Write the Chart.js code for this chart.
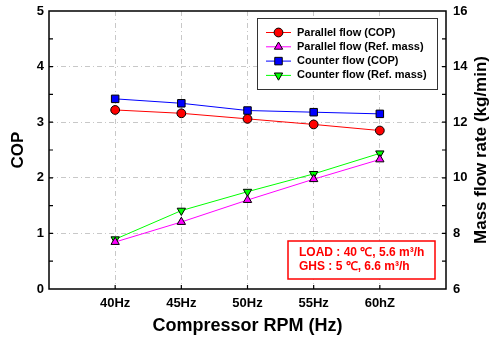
<!DOCTYPE html>
<html>
<head>
<meta charset="utf-8">
<script src="https://cdn.jsdelivr.net/npm/chart.js@4.4.1/dist/chart.umd.min.js"></script>
<style>
html, body { margin: 0; padding: 0; background: #fff; }
#wrap { width: 490px; height: 339px; }
</style>
</head>
<body>
<div id="wrap"><canvas id="c"></canvas></div>
<script>
// data
var freqs = [40, 45, 50, 55, 60];
var freqLabels = ['40Hz', '45Hz', '50Hz', '55Hz', '60hZ'];
var parallelCop = [3.22, 3.16, 3.06, 2.96, 2.85];
var parallelMass = [7.69, 8.41, 9.20, 9.95, 10.66];
var counterCop = [3.42, 3.34, 3.21, 3.18, 3.15];
var counterMass = [7.79, 8.82, 9.50, 10.14, 10.88];
var noteLines = ['LOAD : 40 \u2103, 5.6 m\u00b3/h', 'GHS : 5 \u2103, 6.6 m\u00b3/h'];

var FONT = "'Liberation Sans', Arial, sans-serif";

function pts(vals) {
    return vals.map(function (v, i) { return { x: freqs[i], y: v }; });
}

var gridColor = function (ctx) {
    var v = ctx.tick.value;
    return (v === ctx.scale.min || v === ctx.scale.max) ? 'rgba(0,0,0,0)' : '#c8c8c8';
};

var extras = {
    id: 'extras',
    afterDraw: function (chart) {
        var ctx = chart.ctx, a = chart.chartArea;
        var sx = chart.scales.x, sy = chart.scales.y, sy1 = chart.scales.y1;
        ctx.save();
        // frame
        ctx.strokeStyle = '#000';
        ctx.lineWidth = 1.5;
        ctx.strokeRect(a.left, a.top, a.right - a.left, a.bottom - a.top);
        // inward ticks
        ctx.lineWidth = 1.2;
        ctx.beginPath();
        for (var v = 0.5; v < 5; v += 0.5) {
            var y = sy.getPixelForValue(v);
            ctx.moveTo(a.left, y); ctx.lineTo(a.left + 4, y);
        }
        for (var m = 7; m < 16; m++) {
            var y1 = sy1.getPixelForValue(m);
            ctx.moveTo(a.right, y1); ctx.lineTo(a.right - 4, y1);
        }
        freqs.forEach(function (f) {
            var x = sx.getPixelForValue(f);
            ctx.moveTo(x, a.bottom); ctx.lineTo(x, a.bottom - 4);
        });
        ctx.stroke();

        // right axis title, reading bottom to top
        ctx.fillStyle = '#000';
        ctx.font = 'bold 17px ' + FONT;
        ctx.textAlign = 'center';
        ctx.textBaseline = 'middle';
        ctx.translate(481, (a.top + a.bottom) / 2);
        ctx.rotate(-Math.PI / 2);
        ctx.fillText('Mass flow rate (kg/min)', 0, 0);
        ctx.setTransform(1, 0, 0, 1, 0, 0);

        // legend box
        ctx.fillStyle = '#fff';
        ctx.fillRect(257, 18, 180, 71);
        ctx.strokeStyle = '#333';
        ctx.lineWidth = 1;
        ctx.strokeRect(257.5, 18.5, 180, 71);
        ctx.font = 'bold 11px ' + FONT;
        ctx.textAlign = 'left';
        chart.data.datasets.forEach(function (ds, i) {
            var ly = 32.5 + i * 14.3;
            ctx.strokeStyle = ds.borderColor;
            ctx.lineWidth = 1;
            ctx.beginPath();
            ctx.moveTo(266, ly); ctx.lineTo(291, ly);
            ctx.stroke();
            ctx.fillStyle = ds.pointBackgroundColor;
            ctx.strokeStyle = '#000';
            ctx.lineWidth = 1;
            Chart.helpers.drawPoint(ctx, {
                pointStyle: ds.pointStyle,
                radius: ds.pointRadius,
                rotation: ds.pointRotation || 0,
                borderWidth: 1
            }, 278.5, ly);
            ctx.fillStyle = '#000';
            ctx.fillText(ds.label, 297, ly);
        });

        // condition note
        ctx.fillStyle = '#fff';
        ctx.fillRect(288, 241, 147, 38);
        ctx.strokeStyle = '#ff0000';
        ctx.lineWidth = 1.5;
        ctx.strokeRect(288, 241, 147, 38);
        ctx.fillStyle = '#ff0000';
        ctx.font = 'bold 12px ' + FONT;
        noteLines.forEach(function (t, i) {
            ctx.fillText(t, 299, 253 + i * 14);
        });
        ctx.restore();
    }
};

var ctx = document.getElementById('c').getContext('2d');
new Chart(ctx, {
    type: 'line',
    data: {
        datasets: [
            { label: 'Parallel flow (COP)', data: pts(parallelCop), yAxisID: 'y',
              borderColor: '#ff0000', pointBackgroundColor: '#ff0000', pointStyle: 'circle', pointRadius: 4.4 },
            { label: 'Parallel flow (Ref. mass)', data: pts(parallelMass), yAxisID: 'y1',
              borderColor: '#ff00ff', pointBackgroundColor: '#ff00ff', pointStyle: 'triangle', pointRadius: 4.8 },
            { label: 'Counter flow (COP)', data: pts(counterCop), yAxisID: 'y',
              borderColor: '#0000ff', pointBackgroundColor: '#0000ff', pointStyle: 'rect', pointRadius: 5.3 },
            { label: 'Counter flow (Ref. mass)', data: pts(counterMass), yAxisID: 'y1',
              borderColor: '#00ff00', pointBackgroundColor: '#00ff00', pointStyle: 'triangle', pointRotation: 180, pointRadius: 4.8 }
        ].map(function (d) {
            d.borderWidth = 1;
            d.pointBorderColor = '#000';
            d.pointBorderWidth = 1;
            d.tension = 0;
            return d;
        })
    },
    options: {
        responsive: true,
        maintainAspectRatio: false,
        animation: false,
        layout: { padding: { top: 11, left: 0, right: 0, bottom: 0 } },
        plugins: { legend: { display: false }, tooltip: { enabled: false } },
        scales: {
            x: {
                type: 'linear', min: 35, max: 65,
                ticks: {
                    stepSize: 5, padding: 7, color: '#000', maxRotation: 0,
                    font: { family: FONT, size: 13, weight: 'bold' },
                    callback: function (v) {
                        var i = freqs.indexOf(v);
                        return i >= 0 ? freqLabels[i] : '';
                    }
                },
                grid: { color: gridColor, drawTicks: false, lineWidth: 1 },
                border: { display: false, dash: [5, 3, 1, 3] },
                title: { display: true, text: 'Compressor RPM (Hz)', color: '#000',
                         font: { family: FONT, size: 18, weight: 'bold', lineHeight: 1 },
                         padding: { top: 0, bottom: 4 } },
                afterFit: function (s) { s.height = 50; s.paddingLeft = 0; s.paddingRight = 0; }
            },
            y: {
                position: 'left', min: 0, max: 5,
                ticks: { stepSize: 1, padding: 5, color: '#000',
                         font: { family: FONT, size: 13, weight: 'bold' } },
                grid: { color: gridColor, drawTicks: false, lineWidth: 1 },
                border: { display: false, dash: [5, 3, 1, 3] },
                title: { display: true, text: 'COP', color: '#000',
                         font: { family: FONT, size: 17, weight: 'bold', lineHeight: 1 },
                         padding: { top: 10, bottom: 0 } },
                afterFit: function (s) { s.width = 49; s.paddingTop = 0; s.paddingBottom = 0; }
            },
            y1: {
                position: 'right', min: 6, max: 16,
                ticks: { stepSize: 2, padding: 7, color: '#000',
                         font: { family: FONT, size: 13, weight: 'bold' } },
                grid: { display: false, drawTicks: false },
                border: { display: false },
                afterFit: function (s) { s.width = 44; s.paddingTop = 0; s.paddingBottom = 0; }
            }
        }
    },
    plugins: [extras]
});
</script>
</body>
</html>
